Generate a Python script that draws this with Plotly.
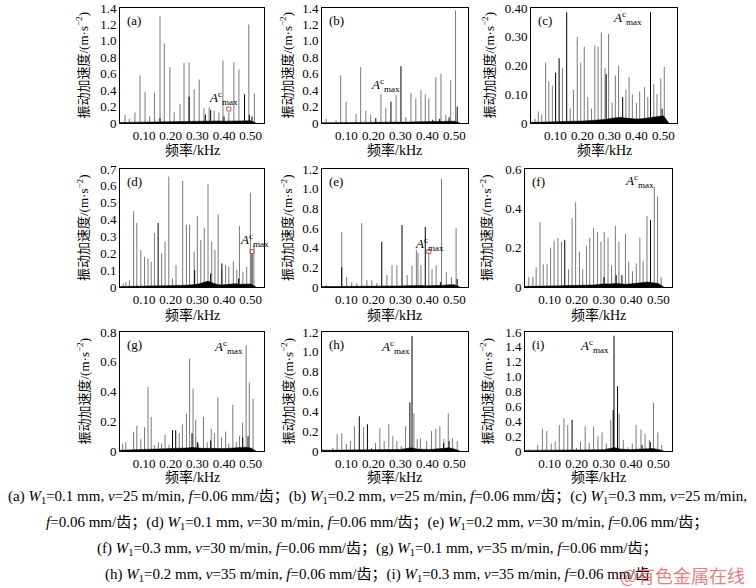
import plotly.graph_objects as go

W, H = 756, 588

# ---------------- data ----------------
FLOOR_F = [0.00, 0.02, 0.04, 0.06, 0.08, 0.10, 0.12, 0.14, 0.16, 0.18, 0.20, 0.22, 0.24, 0.26,
           0.28, 0.30, 0.32, 0.34, 0.36, 0.38, 0.40, 0.42, 0.44, 0.46, 0.48, 0.50, 0.52]
X_TICKS = [0.10, 0.20, 0.30, 0.40, 0.50]
X_TICK_TEXT = ["0.10", "0.20", "0.30", "0.40", "0.50"]

A_GRAY_F = [0.029, 0.045, 0.066, 0.085, 0.104, 0.121, 0.139, 0.160, 0.176, 0.197, 0.213, 0.235, 0.250,
            0.269, 0.288, 0.307, 0.325, 0.344, 0.363, 0.381, 0.396, 0.418, 0.437, 0.456, 0.493, 0.514]
A_GRAY_A = [0.10, 0.05, 0.13, 0.58, 0.38, 0.08, 0.37, 1.30, 0.97, 0.68, 0.13, 0.23, 0.73,
            0.74, 0.41, 0.53, 0.18, 0.19, 0.15, 0.13, 0.76, 0.13, 0.74, 0.65, 1.20, 0.36]
A_BLACK_F = [0.160, 0.269, 0.330, 0.350, 0.400, 0.477, 0.495, 0.505]
A_BLACK_A = [0.06, 0.32, 0.10, 0.16, 0.08, 0.35, 0.10, 0.08]
A_FLOOR = [0.006, 0.007, 0.008, 0.009, 0.010, 0.010, 0.012, 0.012, 0.014, 0.015, 0.016, 0.018, 0.020, 0.022,
           0.025, 0.022, 0.022, 0.025, 0.028, 0.025, 0.022, 0.025, 0.028, 0.030, 0.032, 0.028, 0.0]

B_GRAY_F = [0.025, 0.062, 0.079, 0.099, 0.136, 0.153, 0.172, 0.190, 0.228, 0.246, 0.284, 0.320, 0.339,
            0.357, 0.376, 0.392, 0.405, 0.431, 0.450, 0.468, 0.486, 0.504]
B_GRAY_A = [0.05, 0.03, 0.58, 0.26, 0.11, 0.68, 0.15, 0.10, 0.35, 0.18, 0.34, 0.07, 0.37,
            0.30, 0.40, 0.35, 0.30, 0.56, 0.60, 0.10, 0.52, 1.37]
B_BLACK_F = [0.209, 0.265, 0.302, 0.420, 0.445, 0.480, 0.510]
B_BLACK_A = [0.06, 0.26, 0.69, 0.04, 0.05, 0.07, 0.20]
B_FLOOR = [0.003, 0.003, 0.004, 0.004, 0.005, 0.005, 0.006, 0.006, 0.007, 0.007, 0.008, 0.008, 0.010, 0.011,
           0.012, 0.011, 0.011, 0.012, 0.014, 0.014, 0.014, 0.015, 0.016, 0.016, 0.018, 0.022, 0.0]

C_GRAY_F = [0.025, 0.037, 0.050, 0.064, 0.076, 0.089, 0.126, 0.155, 0.167, 0.181, 0.194, 0.207, 0.220,
            0.234, 0.246, 0.258, 0.270, 0.284, 0.297, 0.310, 0.322, 0.334, 0.361, 0.373, 0.385, 0.400,
            0.412, 0.430, 0.442, 0.464, 0.476, 0.490, 0.503]
C_GRAY_A = [0.015, 0.04, 0.03, 0.21, 0.145, 0.13, 0.19, 0.05, 0.115, 0.30, 0.21, 0.265, 0.09,
            0.05, 0.27, 0.265, 0.315, 0.19, 0.31, 0.07, 0.165, 0.20, 0.115, 0.16, 0.10, 0.07,
            0.11, 0.125, 0.09, 0.135, 0.10, 0.155, 0.195]
C_BLACK_F = [0.101, 0.114, 0.142, 0.288, 0.349, 0.452, 0.495]
C_BLACK_A = [0.175, 0.225, 0.385, 0.17, 0.09, 0.385, 0.05]
C_FLOOR = [0.002, 0.002, 0.003, 0.003, 0.004, 0.004, 0.005, 0.005, 0.006, 0.006, 0.007, 0.008, 0.009, 0.010,
           0.012, 0.015, 0.018, 0.020, 0.017, 0.015, 0.014, 0.015, 0.018, 0.020, 0.022, 0.025, 0.0]

D_GRAY_F = [0.022, 0.032, 0.045, 0.061, 0.073, 0.088, 0.102, 0.115, 0.127, 0.139, 0.166, 0.179, 0.193,
            0.207, 0.220, 0.245, 0.259, 0.271, 0.288, 0.300, 0.313, 0.326, 0.340, 0.354, 0.366, 0.378,
            0.392, 0.406, 0.418, 0.435, 0.448, 0.458, 0.471, 0.485, 0.499, 0.512]
D_GRAY_A = [0.02, 0.03, 0.04, 0.45, 0.38, 0.22, 0.18, 0.17, 0.15, 0.32, 0.20, 0.27, 0.655,
            0.05, 0.13, 0.63, 0.37, 0.37, 0.21, 0.42, 0.28, 0.35, 0.61, 0.27, 0.22, 0.43,
            0.10, 0.13, 0.12, 0.15, 0.10, 0.36, 0.09, 0.12, 0.56, 0.25]
D_BLACK_F = [0.153, 0.290, 0.350, 0.392, 0.455, 0.505]
D_BLACK_A = [0.38, 0.10, 0.08, 0.14, 0.05, 0.20]
D_FLOOR = [0.003, 0.003, 0.004, 0.004, 0.005, 0.005, 0.006, 0.006, 0.007, 0.008, 0.008, 0.009, 0.010, 0.011,
           0.013, 0.016, 0.025, 0.035, 0.022, 0.013, 0.013, 0.016, 0.020, 0.016, 0.016, 0.018, 0.0]

E_GRAY_F = [0.025, 0.083, 0.101, 0.120, 0.139, 0.157, 0.176, 0.194, 0.213, 0.250, 0.269, 0.287,
            0.325, 0.343, 0.359, 0.365, 0.376, 0.405, 0.417, 0.432, 0.452, 0.470, 0.489, 0.506]
E_GRAY_A = [0.02, 0.56, 0.10, 0.05, 0.04, 0.65, 0.07, 0.07, 0.04, 0.12, 0.22, 0.22,
            0.12, 0.22, 0.38, 0.35, 0.22, 0.35, 0.18, 0.22, 1.10, 0.15, 0.10, 0.60]
E_BLACK_F = [0.083, 0.231, 0.306, 0.392, 0.448, 0.510]
E_BLACK_A = [0.20, 0.46, 0.63, 0.61, 0.05, 0.08]
E_FLOOR = [0.004, 0.004, 0.005, 0.005, 0.005, 0.006, 0.006, 0.006, 0.007, 0.008, 0.008, 0.008, 0.009, 0.010,
           0.010, 0.011, 0.013, 0.015, 0.016, 0.015, 0.013, 0.013, 0.016, 0.018, 0.022, 0.022, 0.0]

F_GRAY_F = [0.024, 0.039, 0.051, 0.065, 0.077, 0.091, 0.104, 0.117, 0.131, 0.144, 0.170, 0.183, 0.196,
            0.210, 0.222, 0.236, 0.248, 0.262, 0.276, 0.289, 0.301, 0.315, 0.328, 0.342, 0.355, 0.379,
            0.391, 0.405, 0.419, 0.432, 0.444, 0.458, 0.485, 0.497, 0.510]
F_GRAY_A = [0.05, 0.05, 0.10, 0.33, 0.115, 0.115, 0.20, 0.235, 0.25, 0.23, 0.09, 0.35, 0.43,
            0.18, 0.09, 0.21, 0.25, 0.30, 0.28, 0.23, 0.28, 0.25, 0.11, 0.31, 0.23, 0.27,
            0.13, 0.08, 0.12, 0.25, 0.13, 0.36, 0.51, 0.46, 0.05]
F_BLACK_F = [0.156, 0.300, 0.345, 0.366, 0.471]
F_BLACK_A = [0.24, 0.05, 0.06, 0.06, 0.34]
F_FLOOR = [0.003, 0.003, 0.004, 0.004, 0.005, 0.005, 0.006, 0.006, 0.007, 0.007, 0.008, 0.009, 0.010, 0.010,
           0.013, 0.016, 0.015, 0.018, 0.016, 0.014, 0.016, 0.018, 0.022, 0.025, 0.022, 0.018, 0.0]

G_GRAY_F = [0.020, 0.032, 0.061, 0.073, 0.088, 0.102, 0.115, 0.127, 0.139, 0.154, 0.166, 0.179, 0.194,
            0.232, 0.244, 0.259, 0.271, 0.284, 0.294, 0.304, 0.323, 0.337, 0.352, 0.364, 0.377, 0.391,
            0.406, 0.418, 0.433, 0.446, 0.458, 0.470, 0.483, 0.495, 0.509]
G_GRAY_A = [0.05, 0.06, 0.13, 0.17, 0.08, 0.16, 0.43, 0.23, 0.04, 0.06, 0.05, 0.11, 0.04,
            0.12, 0.18, 0.25, 0.62, 0.42, 0.21, 0.05, 0.23, 0.06, 0.15, 0.12, 0.36, 0.09,
            0.13, 0.05, 0.31, 0.06, 0.10, 0.19, 0.71, 0.46, 0.35]
G_BLACK_F = [0.207, 0.219, 0.280, 0.300, 0.350, 0.470, 0.490]
G_BLACK_A = [0.14, 0.14, 0.12, 0.06, 0.07, 0.09, 0.10]
G_FLOOR = [0.005, 0.006, 0.007, 0.008, 0.008, 0.009, 0.010, 0.010, 0.011, 0.012, 0.014, 0.016, 0.018, 0.020,
           0.024, 0.020, 0.018, 0.018, 0.016, 0.016, 0.016, 0.018, 0.022, 0.026, 0.026, 0.020, 0.0]

H_GRAY_F = [0.010, 0.050, 0.066, 0.083, 0.100, 0.115, 0.130, 0.164, 0.193, 0.208, 0.224, 0.240, 0.257,
            0.272, 0.287, 0.303, 0.319, 0.350, 0.362, 0.374, 0.397, 0.415, 0.431, 0.446, 0.461, 0.477,
            0.493, 0.510]
H_GRAY_A = [0.02, 0.03, 0.17, 0.18, 0.07, 0.10, 0.25, 0.24, 0.03, 0.08, 0.23, 0.10, 0.27,
            0.15, 0.10, 0.05, 0.25, 0.38, 0.12, 0.13, 0.10, 0.20, 0.22, 0.25, 0.12, 0.38,
            0.13, 0.10]
H_BLACK_F = [0.148, 0.178, 0.335, 0.343, 0.460, 0.480]
H_BLACK_A = [0.35, 0.27, 0.49, 1.16, 0.08, 0.10]
H_FLOOR = [0.008, 0.008, 0.008, 0.008, 0.008, 0.008, 0.009, 0.009, 0.010, 0.010, 0.012, 0.012, 0.012, 0.013,
           0.015, 0.016, 0.024, 0.032, 0.020, 0.015, 0.015, 0.018, 0.024, 0.028, 0.032, 0.020, 0.0]

I_GRAY_F = [0.024, 0.057, 0.074, 0.090, 0.106, 0.121, 0.136, 0.153, 0.167, 0.199, 0.214, 0.231, 0.246,
            0.262, 0.278, 0.293, 0.309, 0.325, 0.356, 0.371, 0.389, 0.404, 0.418, 0.436, 0.451, 0.467,
            0.482, 0.498, 0.512]
I_GRAY_A = [0.02, 0.08, 0.30, 0.27, 0.10, 0.13, 0.35, 0.44, 0.35, 0.04, 0.13, 0.33, 0.11,
            0.33, 0.20, 0.25, 0.10, 0.42, 0.50, 0.15, 0.05, 0.10, 0.35, 0.29, 0.23, 0.15,
            0.65, 0.25, 0.08]
I_BLACK_F = [0.183, 0.334, 0.337, 0.350, 0.440, 0.470]
I_BLACK_A = [0.42, 0.55, 1.55, 0.87, 0.08, 0.12]
I_FLOOR = [0.008, 0.008, 0.008, 0.008, 0.008, 0.008, 0.009, 0.009, 0.010, 0.010, 0.012, 0.013, 0.013, 0.013,
           0.016, 0.018, 0.032, 0.045, 0.026, 0.018, 0.018, 0.024, 0.028, 0.032, 0.032, 0.020, 0.0]

# y ticks per panel
A_YT = [0, 0.2, 0.4, 0.6, 0.8, 1.0, 1.2, 1.4]
A_YL = ["0", "0.2", "0.4", "0.6", "0.8", "1.0", "1.2", "1.4"]
C_YT = [0, 0.1, 0.2, 0.3, 0.4]
C_YL = ["0", "0.10", "0.20", "0.30", "0.40"]
D_YT = [0, 0.1, 0.2, 0.3, 0.4, 0.5, 0.6, 0.7]
D_YL = ["0", "0.1", "0.2", "0.3", "0.4", "0.5", "0.6", "0.7"]
E_YT = [0, 0.2, 0.4, 0.6, 0.8, 1.0, 1.2]
E_YL = ["0", "0.2", "0.4", "0.6", "0.8", "1.0", "1.2"]
F_YT = [0, 0.2, 0.4, 0.6]
F_YL = ["0", "0.2", "0.4", "0.6"]
G_YT = [0, 0.2, 0.4, 0.6, 0.8]
G_YL = ["0", "0.2", "0.4", "0.6", "0.8"]
I_YT = [0, 0.2, 0.4, 0.6, 0.8, 1.0, 1.2, 1.4, 1.6]
I_YL = ["0", "0.2", "0.4", "0.6", "0.8", "1.0", "1.2", "1.4", "1.6"]

# A^c_max label positions (data coords) and red markers
AMAX_X = [0.335, 0.185, 0.305, 0.452, 0.345, 0.370, 0.355, 0.222, 0.205]
AMAX_Y = [0.30, 0.46, 0.365, 0.28, 0.44, 0.54, 0.70, 1.05, 1.41]
RED_F = {"a": [0.418], "d": [0.505], "e": [0.405]}
RED_A = {"a": [0.17], "d": [0.21], "e": [0.36]}

CAPTIONS = [
    "(a) <i>W</i><sub>1</sub>=0.1 mm, <i>v</i>=25 m/min, <i>f</i>=0.06 mm/齿；(b) <i>W</i><sub>1</sub>=0.2 mm, <i>v</i>=25 m/min, <i>f</i>=0.06 mm/齿；(c) <i>W</i><sub>1</sub>=0.3 mm, <i>v</i>=25 m/min,",
    "<i>f</i>=0.06 mm/齿；(d) <i>W</i><sub>1</sub>=0.1 mm, <i>v</i>=30 m/min, <i>f</i>=0.06 mm/齿；(e) <i>W</i><sub>1</sub>=0.2 mm, <i>v</i>=30 m/min, <i>f</i>=0.06 mm/齿；",
    "(f) <i>W</i><sub>1</sub>=0.3 mm, <i>v</i>=30 m/min, <i>f</i>=0.06 mm/齿；(g) <i>W</i><sub>1</sub>=0.1 mm, <i>v</i>=35 m/min, <i>f</i>=0.06 mm/齿；",
    "(h) <i>W</i><sub>1</sub>=0.2 mm, <i>v</i>=35 m/min, <i>f</i>=0.06 mm/齿；(i) <i>W</i><sub>1</sub>=0.3 mm, <i>v</i>=35 m/min, <i>f</i>=0.06 mm/齿",
]

# ---------------- layout ----------------
SERIF = "Liberation Serif, Times New Roman, Noto Sans CJK SC, serif"
ROWS = [(8, 123), (169, 287), (332, 451)]
COLS = [[(120, 264), (322, 468), (531, 677)],
        [(120, 264), (322, 468), (525, 672)],
        [(120, 264), (322, 468), (525, 672)]]
YTITLE_X = [[83, 287, 489], [83, 287, 486], [83, 287, 486]]
XTITLE_Y = [150, 315, 477]

panels = [
    ("a", A_GRAY_F, A_GRAY_A, A_BLACK_F, A_BLACK_A, A_FLOOR, 1.4, A_YT, A_YL),
    ("b", B_GRAY_F, B_GRAY_A, B_BLACK_F, B_BLACK_A, B_FLOOR, 1.4, A_YT, A_YL),
    ("c", C_GRAY_F, C_GRAY_A, C_BLACK_F, C_BLACK_A, C_FLOOR, 0.4, C_YT, C_YL),
    ("d", D_GRAY_F, D_GRAY_A, D_BLACK_F, D_BLACK_A, D_FLOOR, 0.7, D_YT, D_YL),
    ("e", E_GRAY_F, E_GRAY_A, E_BLACK_F, E_BLACK_A, E_FLOOR, 1.2, E_YT, E_YL),
    ("f", F_GRAY_F, F_GRAY_A, F_BLACK_F, F_BLACK_A, F_FLOOR, 0.6, F_YT, F_YL),
    ("g", G_GRAY_F, G_GRAY_A, G_BLACK_F, G_BLACK_A, G_FLOOR, 0.8, G_YT, G_YL),
    ("h", H_GRAY_F, H_GRAY_A, H_BLACK_F, H_BLACK_A, H_FLOOR, 1.2, E_YT, E_YL),
    ("i", I_GRAY_F, I_GRAY_A, I_BLACK_F, I_BLACK_A, I_FLOOR, 1.6, I_YT, I_YL),
]


def spikes(fs, amps):
    xs, ys = [], []
    for f, a in zip(fs, amps):
        xs += [f, f, None]
        ys += [0, a, None]
    return xs, ys


fig = go.Figure()
annotations = []
layout_axes = {}

for k, (key, gf, ga, bf, ba, fl, ymax, yt, yl) in enumerate(panels):
    r, c = divmod(k, 3)
    n = k + 1
    xa = "x" if n == 1 else f"x{n}"
    ya = "y" if n == 1 else f"y{n}"
    x0, x1 = COLS[r][c]
    y0, y1 = ROWS[r]

    gx, gy = spikes(gf, ga)
    fig.add_trace(go.Scatter(x=gx, y=gy, mode="lines", line=dict(color="#7a7a7a", width=1),
                             xaxis=xa, yaxis=ya, showlegend=False, hoverinfo="skip"))
    fig.add_trace(go.Scatter(x=FLOOR_F, y=fl, mode="lines", fill="tozeroy", fillcolor="black",
                             line=dict(color="black", width=0.5),
                             xaxis=xa, yaxis=ya, showlegend=False, hoverinfo="skip"))
    bx, by = spikes(bf, ba)
    fig.add_trace(go.Scatter(x=bx, y=by, mode="lines", line=dict(color="black", width=1),
                             xaxis=xa, yaxis=ya, showlegend=False, hoverinfo="skip"))
    if key in RED_F:
        fig.add_trace(go.Scatter(x=RED_F[key], y=RED_A[key], mode="markers",
                                 marker=dict(symbol="square-open", size=4, color="#d9534f",
                                             line=dict(width=1)),
                                 xaxis=xa, yaxis=ya, showlegend=False, hoverinfo="skip"))

    axn = "xaxis" if n == 1 else f"xaxis{n}"
    ayn = "yaxis" if n == 1 else f"yaxis{n}"
    layout_axes[axn] = dict(domain=[x0 / W, x1 / W], anchor=ya, range=[0.01, 0.55],
                            tickvals=X_TICKS, ticktext=X_TICK_TEXT, ticks="", automargin=False,
                            ticklabeloverflow="allow",
                            showgrid=False, zeroline=False, showline=True, mirror=True,
                            linecolor="black", linewidth=1,
                            tickfont=dict(family=SERIF, size=13, color="black"))
    layout_axes[ayn] = dict(domain=[1 - y1 / H, 1 - y0 / H], anchor=xa, range=[0, ymax],
                            tickvals=yt, ticktext=yl, ticks="", automargin=False,
                            ticklabeloverflow="allow",
                            showgrid=False, zeroline=False, showline=True, mirror=True,
                            linecolor="black", linewidth=1,
                            tickfont=dict(family=SERIF, size=13, color="black"))

    annotations.append(dict(text=f"({key})", xref=f"{xa} domain", yref=f"{ya} domain",
                            x=0, y=1, xanchor="left", yanchor="top", xshift=5, yshift=-3,
                            showarrow=False, font=dict(family=SERIF, size=13, color="black")))
    annotations.append(dict(text="<i>A</i><sup>c</sup><sub>max</sub>", xref=xa, yref=ya,
                            x=AMAX_X[k], y=AMAX_Y[k], xanchor="left", yanchor="middle",
                            showarrow=False, font=dict(family=SERIF, size=13, color="black")))
    annotations.append(dict(text="振动加速度/(m·s<sup>−2</sup>)", xref="paper", yref="paper",
                            x=YTITLE_X[r][c] / W, y=1 - (y0 + y1) / 2 / H, textangle=-90,
                            xanchor="center", yanchor="middle", showarrow=False,
                            font=dict(family=SERIF, size=13, color="black")))
    annotations.append(dict(text="频率/kHz", xref="paper", yref="paper",
                            x=(x0 + x1) / 2 / W, y=1 - XTITLE_Y[r] / H,
                            xanchor="center", yanchor="middle", showarrow=False,
                            font=dict(family=SERIF, size=14, color="black")))

for txt, yp in zip(CAPTIONS, [497, 523, 549, 575]):
    annotations.append(dict(text=txt, xref="paper", yref="paper", x=377 / W, y=1 - yp / H,
                            xanchor="center", yanchor="middle", showarrow=False,
                            font=dict(family=SERIF, size=15, color="black")))

annotations.append(dict(text="@有色金属在线", xref="paper", yref="paper", x=747 / W, y=1 - 575 / H,
                        xanchor="right", yanchor="middle", showarrow=False,
                        font=dict(family="Noto Sans CJK SC", size=18, color="rgba(225,80,90,0.75)")))

fig.update_layout(width=W, height=H, margin=dict(l=0, r=0, t=0, b=0, autoexpand=False),
                  paper_bgcolor="white", plot_bgcolor="white",
                  annotations=annotations, **layout_axes)

fig.write_html("out.html", config={"displayModeBar": False},
               post_script="document.body.style.margin='0';")
